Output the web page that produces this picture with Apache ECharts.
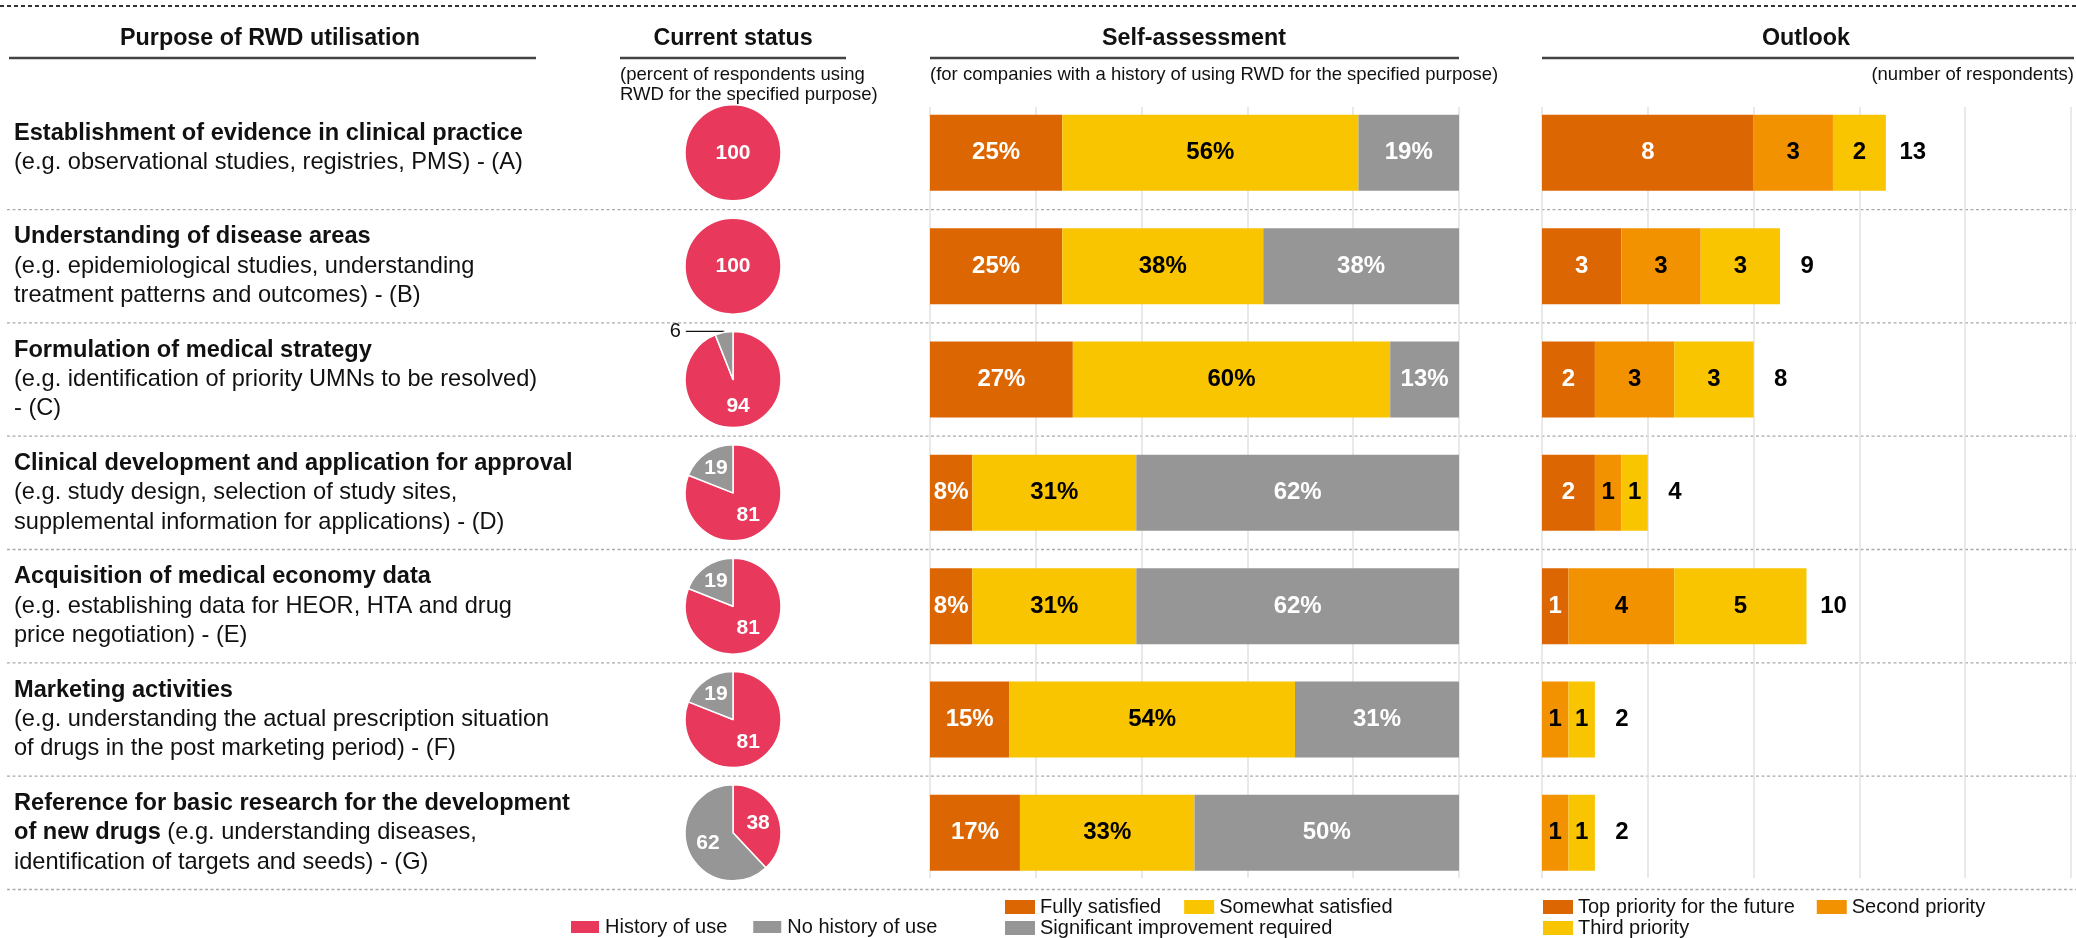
<!DOCTYPE html>
<html>
<head>
<meta charset="utf-8">
<script src="https://cdn.jsdelivr.net/npm/echarts@6/dist/echarts.min.js"></script>
<style>
  html, body { margin: 0; padding: 0; background: #ffffff; }
  #chart { width: 2076px; height: 938px; }
</style>
</head>
<body>
<div id="chart"></div>
<script>
// ---- data -------------------------------------------------------------
const categories = ['A', 'B', 'C', 'D', 'E', 'F', 'G'];

// purpose of RWD utilisation: each row is a list of lines, each line a list of [style, text] runs
const purposeLines = [
  [[['b', 'Establishment of evidence in clinical practice']],
   [['r', '(e.g. observational studies, registries, PMS) - (A)']]],
  [[['b', 'Understanding of disease areas']],
   [['r', '(e.g. epidemiological studies, understanding']],
   [['r', 'treatment patterns and outcomes) - (B)']]],
  [[['b', 'Formulation of medical strategy']],
   [['r', '(e.g. identification of priority UMNs to be resolved)']],
   [['r', '- (C)']]],
  [[['b', 'Clinical development and application for approval']],
   [['r', '(e.g. study design, selection of study sites,']],
   [['r', 'supplemental information for applications) - (D)']]],
  [[['b', 'Acquisition of medical economy data']],
   [['r', '(e.g. establishing data for HEOR, HTA and drug']],
   [['r', 'price negotiation) - (E)']]],
  [[['b', 'Marketing activities']],
   [['r', '(e.g. understanding the actual prescription situation']],
   [['r', 'of drugs in the post marketing period) - (F)']]],
  [[['b', 'Reference for basic research for the development']],
   [['b', 'of new drugs'], ['r', ' (e.g. understanding diseases,']],
   [['r', 'identification of targets and seeds) - (G)']]]
];

// current status (percent of respondents)
const historyOfUse   = [100, 100, 94, 81, 81, 81, 38];
const noHistoryOfUse = [0, 0, 6, 19, 19, 19, 62];

// self-assessment (percent)
const fullySatisfied      = [25, 25, 27, 8, 8, 15, 17];
const somewhatSatisfied   = [56, 38, 60, 31, 31, 54, 33];
const improvementRequired = [19, 38, 13, 62, 62, 31, 50];

// outlook (number of respondents)
const topPriority    = [8, 3, 2, 2, 1, 0, 0];
const secondPriority = [3, 3, 3, 1, 4, 1, 1];
const thirdPriority  = [2, 3, 3, 1, 5, 1, 1];
const outlookTotals  = [13, 9, 8, 4, 10, 2, 2];

// ---- layout & style ----------------------------------------------------
const FONT = '"Liberation Sans", Arial, Helvetica, sans-serif';
const RED = '#E8385B', GREY = '#969696';
const DARK_ORANGE = '#DC6601', ORANGE = '#F39200', YELLOW = '#F9C500';

const rowTop = 96.2, rowH = 113.33, nRows = categories.length;
const rowCenter = i => rowTop + rowH * (i + 0.5);
const pieX = 733, pieR = 48;
const saLeft = 930, olLeft = 1542, panelW = 529;
const gridLineTop = 107, gridLineBottom = 878;

const chart = echarts.init(document.getElementById('chart'), null, { renderer: 'canvas' });

// ---- graphic elements: headers, rules, row texts ----------------------
const graphics = [];
function line(x1, y1, x2, y2, stroke, lineWidth, dash) {
  graphics.push({
    type: 'line', silent: true,
    shape: { x1, y1, x2, y2 },
    style: { stroke, lineWidth, lineDash: dash || null }
  });
}
function text(x, y, str, font, align, fill) {
  graphics.push({
    type: 'text', silent: true, x, y,
    style: { text: str, font, fill: fill || '#111', textAlign: align || 'left', textVerticalAlign: 'middle' }
  });
}

// top rule
line(0, 6, 2076, 6, '#333', 2, [4, 3]);

// column headers with their underlines
const headFont = 'bold 23.3px ' + FONT;
const subFont = '18.5px ' + FONT;
text(270, 39, 'Purpose of RWD utilisation', headFont, 'center');
text(733, 39, 'Current status', headFont, 'center');
text(1194, 39, 'Self-assessment', headFont, 'center');
text(1806, 39, 'Outlook', headFont, 'center');
line(9, 58, 536, 58, '#444', 2.5);
line(620, 58, 846, 58, '#444', 2.5);
line(930, 58, 1459, 58, '#444', 2.5);
line(1542, 58, 2074, 58, '#444', 2.5);

text(620, 75, '(percent of respondents using', subFont);
text(620, 95, 'RWD for the specified purpose)', subFont);
text(930, 75, '(for companies with a history of using RWD for the specified purpose)', subFont);
text(2074, 75, '(number of respondents)', subFont, 'right');

// row separators
for (let i = 0; i < nRows; i++) {
  const y = rowTop + rowH * (i + 1);
  line(7, y, 2076, y, '#aaaaaa', 1.3, [3, 2.5]);
}

// purpose texts
const lineH = 29.3;
purposeLines.forEach((lines, i) => {
  const n = lines.length;
  const shift = n === 2 ? -5 : 0;
  lines.forEach((runs, k) => {
    const y = rowCenter(i) + shift + (k - (n - 1) / 2) * lineH;
    graphics.push({
      type: 'text', silent: true, x: 14, y,
      style: {
        text: runs.map(([s, t]) => '{' + s + '|' + t + '}').join(''),
        textVerticalAlign: 'middle',
        rich: {
          b: { fontFamily: FONT, fontSize: 23.6, fontWeight: 'bold', fill: '#111', color: '#111' },
          r: { fontFamily: FONT, fontSize: 23.6, fontWeight: 'normal', fill: '#111', color: '#111' }
        }
      }
    });
  });
});

// ---- series --------------------------------------------------------------
const barLabel = (color) => ({
  show: true, position: 'inside', color,
  fontFamily: FONT, fontSize: 24, fontWeight: 'bold'
});

function assessmentSeries(name, data, color, labelColor) {
  return {
    type: 'bar', name, stack: 'assessment', xAxisIndex: 0, yAxisIndex: 0,
    barWidth: 76, data, itemStyle: { color },
    label: Object.assign(barLabel(labelColor), { formatter: p => p.value ? p.value + '%' : '' })
  };
}
function outlookSeries(name, data, color, labelColor) {
  return {
    type: 'bar', name, stack: 'outlook', xAxisIndex: 1, yAxisIndex: 1,
    barWidth: 76, data, itemStyle: { color },
    label: Object.assign(barLabel(labelColor), { formatter: p => p.value ? String(p.value) : '' })
  };
}

const pieSeries = categories.map((c, i) => {
  const cy = rowCenter(i);
  const slices = [];
  if (historyOfUse[i] > 0) {
    slices.push({
      name: 'History of use', value: historyOfUse[i], itemStyle: { color: RED },
      label: historyOfUse[i] === 100 ? { position: 'center' } : {}
    });
  }
  if (noHistoryOfUse[i] > 0) {
    const small = noHistoryOfUse[i] < 10;
    slices.push({
      name: 'No history of use', value: noHistoryOfUse[i], itemStyle: { color: GREY },
      label: small ? { position: 'outside', color: '#111', fontWeight: 'normal', fontSize: 20 } : {},
      labelLine: small ? { show: true, length: 1, length2: 38, lineStyle: { color: '#111', width: 1.2 } } : { show: false }
    });
  }
  return {
    type: 'pie', name: 'Current status ' + c,
    center: [pieX, cy], radius: pieR,
    startAngle: 90, clockwise: true, avoidLabelOverlap: false,
    itemStyle: { borderColor: '#fff', borderWidth: 1.5 },
    label: { show: true, position: 'inside', formatter: '{c}', color: '#fff',
             fontFamily: FONT, fontSize: 21, fontWeight: 'bold' },
    labelLine: { show: false },
    emphasis: { disabled: true },
    // narrow slices carry their label a little further out from the centre
    labelLayout: (params) => {
      const v = slices[params.dataIndex] && slices[params.dataIndex].value;
      if (!(v >= 10 && v < 25)) return {};
      const r = params.labelRect;
      const lx = r.x + r.width / 2, ly = r.y + r.height / 2;
      return { dx: (lx - pieX) * 0.12, dy: (ly - cy) * 0.12 };
    },
    data: slices
  };
});

const hiddenValueAxis = (gridIndex, max) => ({ type: 'value', gridIndex, min: 0, max, show: false });
const gridLineAxis = (gridIndex, max, interval) => ({
  type: 'value', gridIndex, min: 0, max, interval,
  axisLine: { show: false }, axisTick: { show: false }, axisLabel: { show: false },
  splitLine: { show: true, lineStyle: { color: '#e2e2e2', width: 1.5 } }
});
const categoryAxis = (gridIndex) => ({ type: 'category', gridIndex, data: categories, inverse: true, show: false });
const blankAxis = (gridIndex) => ({ type: 'value', gridIndex, min: 0, max: 1, show: false });

const legendText = { fontFamily: FONT, fontSize: 20, color: '#111', lineHeight: 20 };
const legendBase = { orient: 'horizontal', padding: 0, itemWidth: 30, itemHeight: 14, itemGap: 23,
                     icon: 'rect', textStyle: legendText, selectedMode: false };

const option = {
  animation: false,
  backgroundColor: '#ffffff',
  textStyle: { fontFamily: FONT },
  grid: [
    { left: saLeft, width: panelW, top: rowTop, height: rowH * nRows },
    { left: olLeft, width: panelW, top: rowTop, height: rowH * nRows },
    { left: saLeft, width: panelW, top: gridLineTop, height: gridLineBottom - gridLineTop },
    { left: olLeft, width: panelW, top: gridLineTop, height: gridLineBottom - gridLineTop }
  ],
  xAxis: [
    hiddenValueAxis(0, 100),
    hiddenValueAxis(1, 20),
    gridLineAxis(2, 100, 20),
    gridLineAxis(3, 20, 4)
  ],
  yAxis: [categoryAxis(0), categoryAxis(1), blankAxis(2), blankAxis(3)],
  legend: [
    Object.assign({}, legendBase, { left: 569, top: 917, itemGap: 24,
      data: ['History of use', 'No history of use'] }),
    Object.assign({}, legendBase, { left: 1005, top: 897,
      data: ['Fully satisfied', 'Somewhat satisfied'] }),
    Object.assign({}, legendBase, { left: 1005, top: 918,
      data: ['Significant improvement required'] }),
    Object.assign({}, legendBase, { left: 1543, top: 897, itemGap: 22,
      data: ['Top priority for the future', 'Second priority'] }),
    Object.assign({}, legendBase, { left: 1543, top: 918,
      data: ['Third priority'] })
  ],
  series: [
    ...pieSeries,
    assessmentSeries('Fully satisfied', fullySatisfied, DARK_ORANGE, '#fff'),
    assessmentSeries('Somewhat satisfied', somewhatSatisfied, YELLOW, '#000'),
    assessmentSeries('Significant improvement required', improvementRequired, GREY, '#fff'),
    outlookSeries('Top priority for the future', topPriority, DARK_ORANGE, '#fff'),
    outlookSeries('Second priority', secondPriority, ORANGE, '#000'),
    outlookSeries('Third priority', thirdPriority, YELLOW, '#000'),
    {
      type: 'scatter', name: 'Total', xAxisIndex: 1, yAxisIndex: 1,
      symbolSize: 1, itemStyle: { color: 'rgba(0,0,0,0)', opacity: 1 }, silent: true,
      emphasis: { disabled: true },
      data: outlookTotals.map((v, i) => [v, categories[i]]),
      label: { show: true, position: 'inside', offset: [27, 0], formatter: p => String(p.value[0]),
               color: '#000', opacity: 1, fontFamily: FONT, fontSize: 24, fontWeight: 'bold' }
    }
  ],
  graphic: { elements: graphics }
};

chart.setOption(option);
</script>
</body>
</html>
